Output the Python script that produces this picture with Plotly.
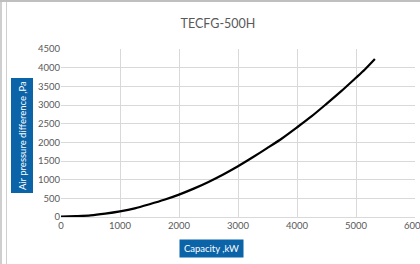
import plotly.graph_objects as go

capacity_kw = [0, 250, 500, 750, 1000, 1250, 1500, 1750, 2000, 2250, 2500, 2750, 3000, 3250,
               3500, 3750, 4000, 4250, 4500, 4750, 5000, 5150, 5320]
pressure_pa = [10, 25, 45, 90, 150, 230, 340, 460, 600, 760, 940, 1140, 1360, 1600,
               1850, 2110, 2400, 2700, 3030, 3370, 3730, 3950, 4230]

x_ticks = [0, 1000, 2000, 3000, 4000, 5000, 6000]
y_ticks = [0, 500, 1000, 1500, 2000, 2500, 3000, 3500, 4000, 4500]

W, H = 420, 264
L, R, T, B = 61, 5, 49, 47
pw, ph = W - L - R, H - T - B

def px(x):
    return (x - L) / pw

def py(y):
    return (H - B - y) / ph

fig = go.Figure()
fig.add_trace(go.Scatter(x=capacity_kw, y=pressure_pa, mode="lines",
                         line=dict(color="black", width=2.2, shape="spline", smoothing=0.8),
                         showlegend=False, hoverinfo="skip"))

font_fam = "Lato, Open Sans, sans-serif"
fig.update_layout(
    width=W, height=H,
    margin=dict(l=L, r=R, t=T, b=B, autoexpand=False),
    paper_bgcolor="white", plot_bgcolor="white",
    title=dict(text="TECFG-500H", xref="paper", x=px(218), xanchor="center",
               yref="container", y=1 - 24 / H, yanchor="middle",
               font=dict(family=font_fam, size=12.5, color="#595959")),
    xaxis=dict(range=[0, 6000], tickvals=x_ticks, ticktext=[str(v) for v in x_ticks],
               showgrid=True, gridcolor="#d9d9d9", gridwidth=1, zeroline=False, automargin=False,
               showline=True, linecolor="#d9d9d9", ticks="", ticklen=0,
               ticklabeloverflow="allow",
               tickfont=dict(family=font_fam, size=9.5, color="#595959"), fixedrange=True),
    yaxis=dict(range=[0, 4500], tickvals=y_ticks, ticktext=[str(v) for v in y_ticks],
               showgrid=True, gridcolor="#d9d9d9", gridwidth=1, zeroline=False, automargin=False,
               showline=False, ticks="", ticklen=0,
               tickfont=dict(family=font_fam, size=9.5, color="#595959"), fixedrange=True),
    annotations=[
        dict(text="Air pressure difference ,Pa", textangle=-90, xref="paper", yref="paper",
             x=px(21.5), y=py(136), xanchor="center", yanchor="middle", showarrow=False,
             font=dict(family=font_fam, size=9.5, color="white"), bgcolor="#0b63a8",
             borderpad=0, width=114, height=21),
        dict(text="Capacity ,kW", xref="paper", yref="paper",
             x=px(211.5), y=py(248.5), xanchor="center", yanchor="middle", showarrow=False,
             font=dict(family=font_fam, size=9.5, color="white"), bgcolor="#0b63a8",
             borderpad=0, width=63, height=17),
    ],
    shapes=[
        dict(type="line", xref="paper", yref="paper", x0=px(0), x1=px(W), y0=py(1), y1=py(1),
             line=dict(color="#bfbfbf", width=2)),
        dict(type="line", xref="paper", yref="paper", x0=px(1), x1=px(1), y0=py(0), y1=py(H),
             line=dict(color="#bfbfbf", width=1.5)),
        dict(type="line", xref="paper", yref="paper", x0=px(6.5), x1=px(6.5), y0=py(2), y1=py(H),
             line=dict(color="#cfcfcf", width=1)),
    ],
)

fig.write_html("out.html", config={"displayModeBar": False},
               post_script="document.body.style.margin='0px';document.body.style.overflow='hidden';")
